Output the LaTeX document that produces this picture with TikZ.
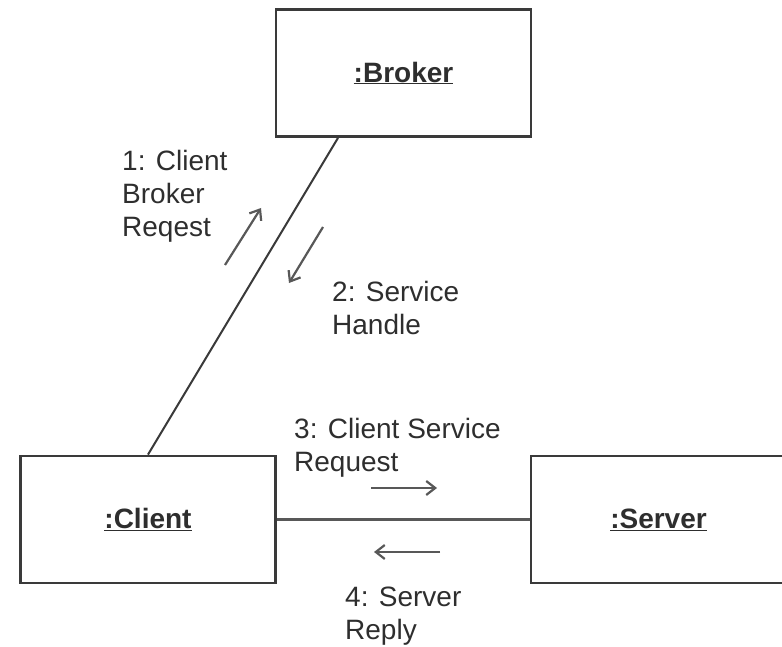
\documentclass[tikz,border=0pt]{standalone}
\usepackage{fontspec}
\setmainfont{Liberation Sans}
\usetikzlibrary{arrows.meta,calc}
\definecolor{ink}{HTML}{3A3A3A}
\definecolor{txt}{HTML}{2E2E2E}
\begin{document}
\begin{tikzpicture}[x=1pt,y=-1pt,
  objbox/.style={draw=ink,line width=2.8pt,fill=white,inner sep=0pt,
    minimum width=255pt,minimum height=127pt,
    font=\fontsize{28}{33}\selectfont\bfseries,text=txt},
  link/.style={draw=ink!85,line width=2.8pt},
  msg/.style={draw=ink!85,line width=2.2pt,
    -{Straight Barb[length=9pt,width=14pt,line width=2.2pt]}},
  label/.style={anchor=north west,inner sep=0pt,align=left,text=txt,
    font=\fontsize{28}{33}\selectfont}]
  \useasboundingbox (0,0) rectangle (782,647);

  % objects
  \node[objbox] (broker) at (403.5,73)    {\underline{:Broker}};
  \node[objbox] (client) at (148,519.5)   {\underline{:Client}};
  \node[objbox] (server) at (658.5,519.5) {\underline{:Server}};

  % links
  \draw[link,draw=ink,line width=2pt] ([xshift=-65.5pt]broker.south) -- (client.north);
  \draw[link] (client.east) -- (server.west);

  % message arrows
  \coordinate (m1s) at (225,265); \coordinate (m1e) at (261,208);
  \coordinate (m2s) at (323,227); \coordinate (m2e) at (289,283);
  \coordinate (m3s) at (371,488); \coordinate (m3e) at (437,488);
  \coordinate (m4s) at (440,552); \coordinate (m4e) at (374,552);
  \draw[msg] (m1s) -- (m1e);
  \draw[msg] (m2s) -- (m2e);
  \draw[msg] (m3s) -- (m3e);
  \draw[msg] (m4s) -- (m4e);

  % message labels
  \node[label] (l1) at (122,150) {1: Client\\Broker\\Reqest};
  \node[label] (l2) at (332,281) {2: Service\\Handle};
  \node[label] (l3) at (294,418) {3: Client Service\\Request};
  \node[label] (l4) at (345,587) {4: Server\\Reply};
\end{tikzpicture}
\end{document}
